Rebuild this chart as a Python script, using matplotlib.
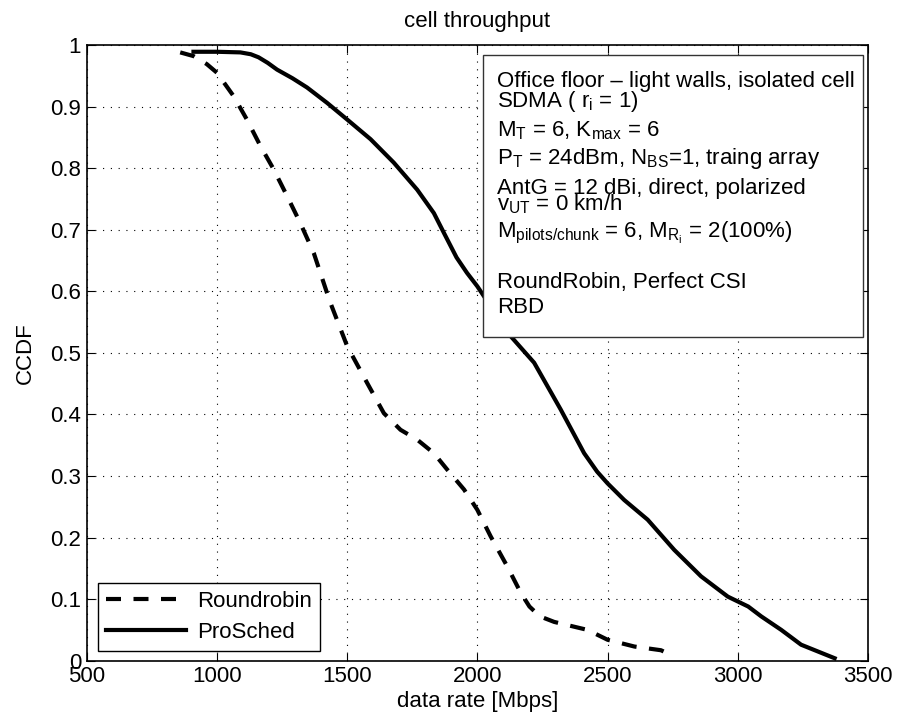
import matplotlib.pyplot as plt
import matplotlib.patches as mpatches

plt.rcParams['font.family'] = ['Liberation Sans', 'DejaVu Sans']
plt.rcParams['mathtext.fontset'] = 'custom'
plt.rcParams['mathtext.rm'] = 'Liberation Sans'
plt.rcParams['mathtext.it'] = 'Liberation Sans'
plt.rcParams['mathtext.default'] = 'regular'

# data
rr_rate = [859, 910, 961, 1000, 1064, 1115, 1167, 1218, 1269, 1320, 1372, 1423,
           1436, 1500, 1577, 1641, 1705, 1769, 1833, 1885, 1949, 2000, 2051,
           2115, 2167, 2200, 2240, 2295, 2423, 2500, 2603, 2705, 2756]
rr_ccdf = [0.988, 0.982, 0.969, 0.955, 0.917, 0.879, 0.836, 0.798, 0.755, 0.711,
           0.662, 0.597, 0.581, 0.511, 0.451, 0.402, 0.375, 0.359, 0.337, 0.310,
           0.278, 0.245, 0.202, 0.153, 0.110, 0.088, 0.072, 0.063, 0.050, 0.034,
           0.023, 0.017, 0.007]

ps_rate = [910, 1000, 1090, 1130, 1160, 1195, 1231, 1290, 1346, 1423, 1500, 1590,
           1679, 1769, 1833, 1875, 1920, 1960, 2000, 2128, 2218, 2320, 2410, 2460,
           2500, 2564, 2654, 2756, 2859, 2962, 3040, 3090, 3167, 3243, 3372]
ps_ccdf = [0.989, 0.989, 0.988, 0.985, 0.980, 0.971, 0.960, 0.946, 0.931, 0.906,
           0.879, 0.847, 0.809, 0.765, 0.727, 0.692, 0.655, 0.630, 0.608, 0.527,
           0.484, 0.408, 0.337, 0.307, 0.288, 0.261, 0.229, 0.180, 0.137, 0.104,
           0.088, 0.072, 0.050, 0.026, 0.004]

info_lines = [
    'Office floor \u2013 light walls, isolated cell',
    'SDMA ( r$_{\\mathrm{i}}$ = 1)',
    'M$_{\\mathrm{T}}$ = 6, K$_{\\mathrm{max}}$ = 6',
    'P$_{\\mathrm{T}}$ = 24dBm, N$_{\\mathrm{BS}}$=1, traing array',
    'AntG = 12 dBi, direct, polarized',
    'v$_{\\mathrm{UT}}$ = 0 km/h',
    'M$_{\\mathrm{pilots/chunk}}$ = 6, M$_{\\mathrm{R_i}}$ = 2(100%)',
    'RoundRobin, Perfect CSI',
    'RBD',
]
# baseline of each line, in pixels from the top of the figure
info_y = [87, 107, 136, 164, 194, 210, 237, 288, 313]

W, H = 899, 728
fig = plt.figure(figsize=(W / 100, H / 100), dpi=100)
ax = fig.add_axes([86.7 / W, 1 - 660.7 / H, (868 - 86.7) / W, (660.7 - 45) / H])

ax.plot(rr_rate, rr_ccdf, 'k--', lw=3, dashes=(3.6, 3.0), label='Roundrobin')
ax.plot(ps_rate, ps_ccdf, 'k-', lw=3, label='ProSched')

ax.set_xlim(500, 3500)
ax.set_ylim(0, 1)
ax.set_xticks(range(500, 3501, 500))
ax.set_yticks([i / 10 for i in range(11)])
ax.set_yticklabels(['0'] + ['0.%d' % i for i in range(1, 10)] + ['1'])
ax.grid(True, linestyle=(0, (1, 6)), color='k', lw=0.8)
ax.tick_params(direction='in', top=True, right=True, labelsize=16, length=6, pad=4)
for s in ax.spines.values():
    s.set_linewidth(1.2)

ax.set_title('cell throughput', fontsize=16, pad=13)
ax.set_xlabel('data rate [Mbps]', fontsize=16, labelpad=3)
ax.set_ylabel('CCDF', fontsize=16, labelpad=10)

leg = ax.legend(loc='lower left', bbox_to_anchor=((98 - 86.7) / (868 - 86.7), (660.7 - 651) / 615.7),
                borderaxespad=0, fancybox=False, edgecolor='k', framealpha=1,
                fontsize=16, handlelength=3.6, handletextpad=0.5, labelspacing=0.45,
                borderpad=0.35)
leg.get_frame().set_linewidth(1.0)

# annotation box
box = mpatches.Rectangle((483 / W, 1 - 337 / H), (863 - 483) / W, (337 - 55) / H,
                         transform=fig.transFigure, facecolor='white', edgecolor='#333333',
                         lw=1.0, zorder=5)
fig.patches.append(box)
for txt, yp in zip(info_lines, info_y):
    fig.text(497 / W, 1 - yp / H, txt, fontsize=16, va='baseline', ha='left', zorder=6)

fig.savefig('out.png', dpi=100)
